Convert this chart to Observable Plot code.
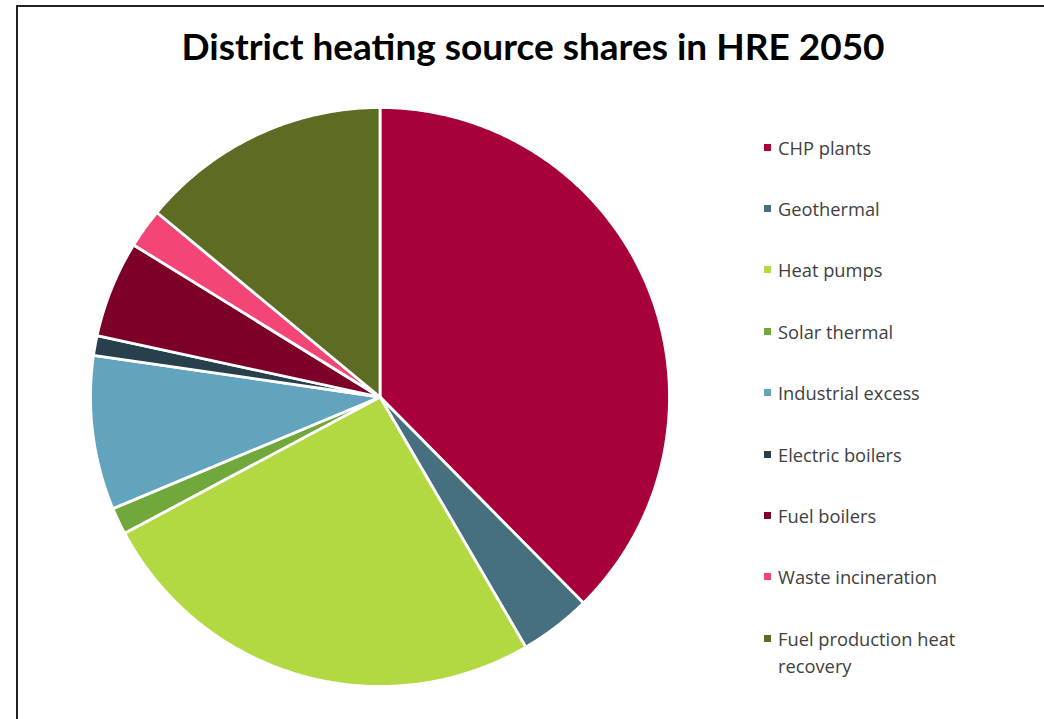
<!DOCTYPE html>
<html><head><meta charset="utf-8">
<script src="https://cdn.jsdelivr.net/npm/d3@7"></script>
<script src="https://cdn.jsdelivr.net/npm/@observablehq/plot@0.6"></script>
<style>
body{margin:0;background:#fff;width:1044px;height:719px;overflow:hidden;position:relative;font-family:"Open Sans",sans-serif;}
#frame{position:absolute;left:16px;top:5px;width:1100px;height:800px;border-left:2px solid #222;border-top:2px solid #222;}
#title{position:absolute;left:0;width:1066px;top:26px;line-height:40px;text-align:center;font-family:Lato,sans-serif;font-weight:bold;font-size:37px;color:#000;white-space:nowrap}
#chart{position:absolute;left:85.8px;top:103.3px}
#legend{position:absolute;left:764px;top:0}
.item{position:absolute;left:0;width:220px;font-size:18.3px;line-height:27px;color:#404040}
.sw{position:absolute;left:0;top:10px;width:7px;height:7px}
.lab{position:absolute;left:14px;top:0;width:200px}
</style></head>
<body>
<div id="frame"></div>
<div id="title">District heating source shares in HRE 2050</div>
<div id="chart"></div>
<div id="legend"></div>
<script>
const categories = ["CHP plants","Geothermal","Heat pumps","Solar thermal","Industrial excess","Electric boilers","Fuel boilers","Waste incineration","Fuel production heat recovery"];
const shares = [37.6, 4.0, 25.6, 1.5, 8.6, 1.1, 5.4, 2.2, 14.0];
const colors = ["#A8003A","#46707F","#B2D942","#70A83C","#62A3BE","#28404C","#7C0028","#F34676","#5C6C22"];

const arcs = d3.pie().sort(null).value(d => d)(shares);
const pts = [];
arcs.forEach((a, i) => {
  const name = categories[i];
  pts.push({name, x: 0, y: 0});
  const n = Math.max(2, Math.ceil((a.endAngle - a.startAngle) / (Math.PI / 360)));
  for (let k = 0; k <= n; k++) {
    const t = a.startAngle + (a.endAngle - a.startAngle) * k / n;
    pts.push({name, x: Math.sin(t), y: Math.cos(t)});
  }
});

const chart = Plot.plot({
  width: 587, height: 587, margin: 4,
  x: {domain: [-1, 1], axis: null},
  y: {domain: [-1, 1], axis: null},
  color: {domain: categories, range: colors},
  marks: [
    Plot.line(pts, {x: "x", y: "y", z: "name", fill: "name", stroke: "white", strokeWidth: 2.8, curve: "linear-closed"})
  ]
});
document.getElementById("chart").appendChild(chart);

const legend = document.getElementById("legend");
categories.forEach((c, i) => {
  const it = document.createElement("div");
  it.className = "item";
  it.style.top = (133.5 + i * 61.4) + "px";
  const sw = document.createElement("div");
  sw.className = "sw";
  sw.style.background = colors[i];
  const lab = document.createElement("div");
  lab.className = "lab";
  lab.textContent = c;
  it.appendChild(sw); it.appendChild(lab);
  legend.appendChild(it);
});
</script>
</body></html>
